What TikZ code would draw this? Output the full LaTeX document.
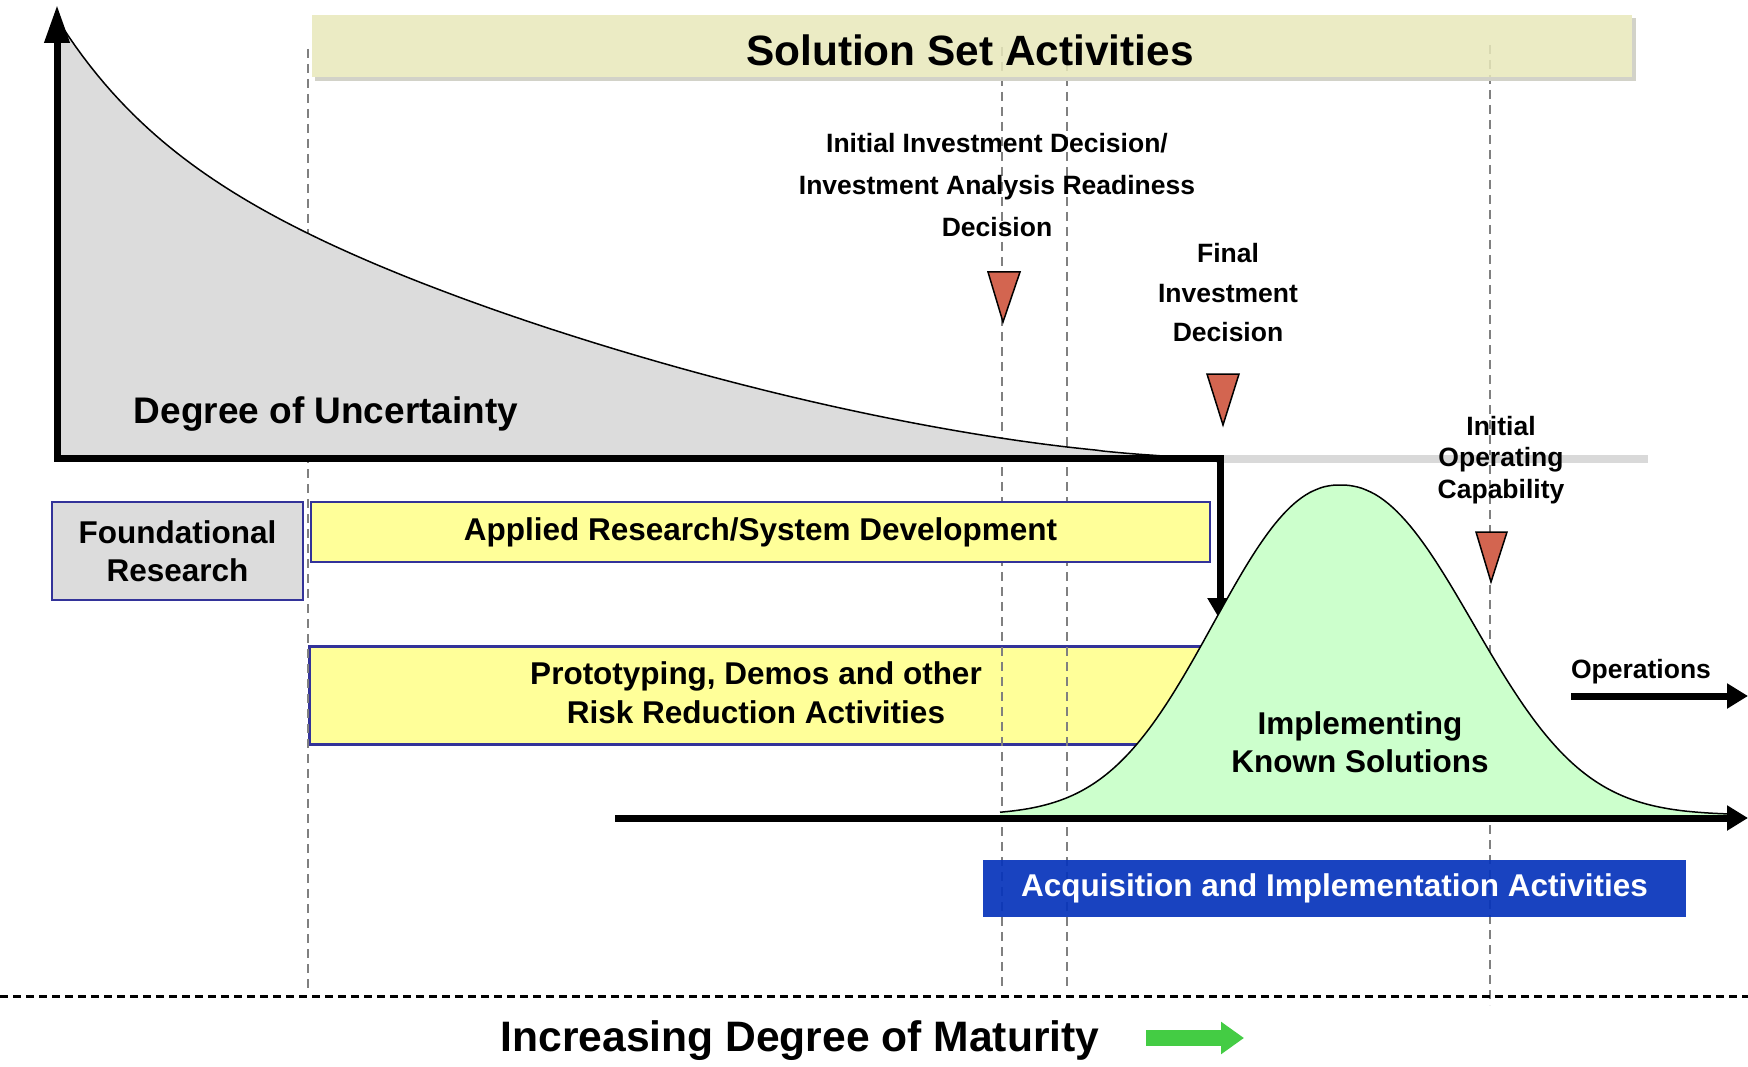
\documentclass[tikz,border=0pt]{standalone}
\usepackage{fontspec}
\setmainfont{Liberation Sans}
\usetikzlibrary{arrows.meta}
\definecolor{bannerfill}{HTML}{E8E8BA}
\definecolor{bannershadow}{HTML}{D2D2C8}
\definecolor{ugray}{HTML}{DCDCDC}
\definecolor{boxblue}{HTML}{333399}
\definecolor{boxyellow}{HTML}{FFFF99}
\definecolor{bellgreen}{HTML}{CCFFCC}
\definecolor{trired}{HTML}{D36550}
\definecolor{acqblue}{HTML}{0634BB}
\definecolor{arrowgreen}{HTML}{44CC44}
\definecolor{dashgray}{HTML}{808080}
\definecolor{lightline}{HTML}{D9D9D9}
\newcommand{\myfs}[2]{\bfseries\fontsize{#1}{#2}\selectfont}
\begin{document}
\begin{tikzpicture}[x=1pt,y=-1pt,
  vdash/.style={draw=dashgray, line width=1.6pt, dash pattern=on 9pt off 6pt},
  framebox/.style={draw=boxblue, line width=2.5pt, inner sep=0pt, align=center},
  lbl/.style={inner sep=0pt, align=center},
  marker/.style={draw=black, line width=1.5pt, fill=trired, line join=miter},
  axisline/.style={line width=7pt, line join=miter},
  outline/.style={line width=1.5pt},
  declare function={
    ucurve(\t)=458-214*pow(1-(\t-250)/910,1.65)-120*exp(-\t/105);
    bleft(\x)=815-330*exp(-pow((1340.001-\x)/167,2.2));
    bright(\x)=815-330*exp(-pow((\x-1339.999)/175.6,2.2));
  }
]
\useasboundingbox[fill=white] (0,0) rectangle (1748,1067);

% prototyping box (under the dashed guide lines)
\node[framebox, fill=boxyellow, minimum width=907pt, minimum height=98pt, anchor=north west] (protobox) at (308,645) {};
\node[lbl, font=\myfs{31.5}{39}] (protot) at (756,693) {Prototyping, Demos and other\\Risk Reduction Activities};

% dashed guide lines
\coordinate (gt1) at (308,49);  \coordinate (gb1) at (308,992);
\coordinate (gt2) at (1002,47); \coordinate (gb2) at (1002,991);
\coordinate (gt3) at (1067,47); \coordinate (gb3) at (1067,991);
\coordinate (gt4) at (1490,45); \coordinate (gb4) at (1490,1005);
\foreach \a in {1,...,4} \draw[vdash] (gt\a) -- (gb\a);

% banner
\fill[bannershadow] (315,77) rectangle (1636,81);
\fill[bannershadow] (1632,18) rectangle (1636,81);
\node[fill=bannerfill, fill opacity=0.85, minimum width=1320pt, minimum height=62pt, anchor=north west, inner sep=0pt] (banner) at (312,15) {};
\node[lbl, font=\myfs{42.4}{50}] (bannertext) at (970,50) {Solution Set Activities};

% degree of uncertainty curve
\fill[ugray] (57,20)
  -- plot[domain=4:1155, samples=160, variable=\t] ({57+\t},{ucurve(\t)})
  -- (1212,458) -- (57,458) -- cycle;
\draw[outline] plot[domain=4:1155, samples=160, variable=\t] ({57+\t},{ucurve(\t)});

% light grey continuation
\coordinate (ll1) at (1216,459); \coordinate (ll2) at (1648,459);
\draw[lightline, line width=8pt] (ll1) -- (ll2);

% axes
\coordinate (ytop) at (57,5);
\coordinate (orig) at (57,458);
\coordinate (corner) at (1220,458);
\coordinate (downtip) at (1220,620);
\draw[axisline, {Triangle[length=38pt,width=24pt]}-{Triangle[length=22pt,width=24pt]}] (ytop) -- (orig) -- (corner) -- (downtip);

% boxes
\node[framebox, fill=ugray, minimum width=251pt, minimum height=98pt, font=\myfs{31.5}{38}] (found) at (177.5,551) {Foundational\\Research};
\node[framebox, fill=boxyellow, minimum width=899pt, minimum height=60pt, font=\myfs{31.5}{38}] (applied) at (760.5,532) {Applied Research/System Development};

% bell curve
\fill[bellgreen] plot[domain=1000:1340, samples=90] (\x,{bleft(\x)})
  -- plot[domain=1340:1730, samples=90] (\x,{bright(\x)})
  -- (1730,818) -- (1000,818) -- cycle;
\draw[outline] plot[domain=1000:1340, samples=90] (\x,{bleft(\x)})
  -- plot[domain=1340:1730, samples=90] (\x,{bright(\x)});
\node[lbl, font=\myfs{31.5}{38}] (impl) at (1360,742.5) {Implementing\\Known Solutions};

% base arrow and operations arrow
\coordinate (bl0) at (615,818); \coordinate (bl1) at (1748,818);
\draw[line width=7pt, -{Triangle[length=21pt,width=24pt]}] (bl0) -- (bl1);
\coordinate (op0) at (1571,696); \coordinate (op1) at (1748,696);
\draw[line width=7pt, -{Triangle[length=21pt,width=24pt]}] (op0) -- (op1);
\node[lbl, font=\myfs{26.5}{32}] (ops) at (1641,671.2) {Operations};

% decision markers
\draw[marker] (988,272) -- (1020,272) -- (1003,322) -- cycle;
\draw[marker] (1207,374) -- (1239,374) -- (1223,425) -- cycle;
\draw[marker] (1476,532) -- (1507,532) -- (1491,582) -- cycle;
\node[lbl, font=\myfs{26.5}{42}] (iid) at (997,185.4) {Initial Investment Decision/\\Investment Analysis Readiness\\Decision};
\node[lbl, font=\myfs{26.5}{39.5}] (fid) at (1228,292.9) {Final\\Investment\\Decision};
\node[lbl, font=\myfs{26.5}{31.5}] (ioc) at (1501,459.7) {Initial\\Operating\\Capability};

% uncertainty label
\node[lbl, font=\myfs{37}{44}] (dou) at (326,414.5) {Degree of Uncertainty};

% acquisition box
\node[fill=acqblue, fill opacity=0.92, text opacity=1, text=white, minimum width=703pt, minimum height=57pt, inner sep=0pt, font=\myfs{31.5}{38}] (acq) at (1334.5,888.5) {Acquisition and Implementation Activities};

% bottom
\coordinate (bd0) at (0,996); \coordinate (bd1) at (1748,996);
\draw[line width=3pt, dash pattern=on 8pt off 5pt] (bd0) -- (bd1);
\node[lbl, font=\myfs{42.6}{48}] (maturity) at (800,1040.2) {Increasing Degree of Maturity};
\coordinate (ga0) at (1146,1038); \coordinate (ga1) at (1244,1038);
\draw[arrowgreen, line width=16pt, -{Triangle[length=23pt,width=31pt]}] (ga0) -- (ga1);
\end{tikzpicture}
\end{document}
